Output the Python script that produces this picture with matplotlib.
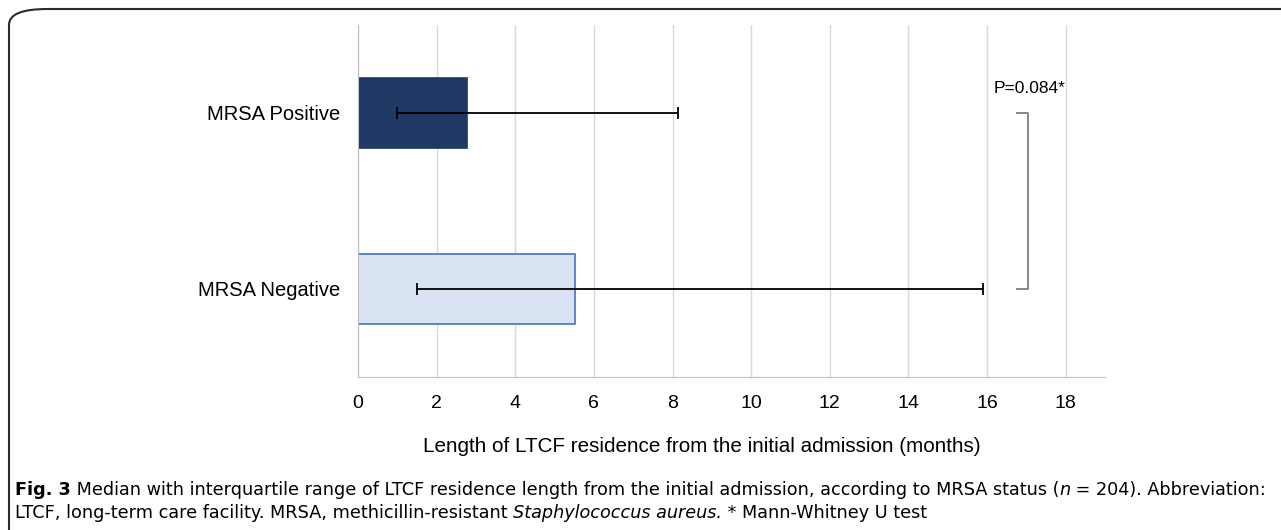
import matplotlib
matplotlib.use("Agg")
import matplotlib.pyplot as plt
from matplotlib.patches import FancyBboxPatch

# data (months)
groups = ["MRSA Negative", "MRSA Positive"]
medians = [5.52, 2.78]
q1 = [1.5, 1.0]
q3 = [15.9, 8.15]
p_label = "P=0.084*"
x_ticks = [0, 2, 4, 6, 8, 10, 12, 14, 16, 18]

plt.rcParams["font.family"] = ["Liberation Sans", "DejaVu Sans"]

fig = plt.figure(figsize=(12.81, 5.30), dpi=100)

# rounded frame around the whole figure (only top/left visible)
frame = FancyBboxPatch((9 / 1281, -0.2), 1.2, 1.2 - 9 / 530,
                       boxstyle="round,pad=0,rounding_size=0.03",
                       transform=fig.transFigure, fill=False,
                       edgecolor="#2b2b2b", linewidth=1.5,
                       mutation_aspect=530 / 1281 * 2.4)
fig.patches.append(frame)

ax = fig.add_axes([358 / 1281, 1 - 377 / 530, 747 / 1281, 352 / 530])

ypos = list(range(len(groups)))
face = ["#dae3f3", "#1f3864"]
edge = ["#4472c4", "#1f3864"]
ax.barh(ypos, medians, height=0.40, color=face, edgecolor=edge, linewidth=1.2, zorder=2)

xerr = [[m - a for m, a in zip(medians, q1)], [b - m for m, b in zip(medians, q3)]]
ax.errorbar(medians, ypos, xerr=xerr, fmt="none", ecolor="black",
            elinewidth=1.3, capsize=4, capthick=1.3, zorder=3)

# significance bracket
bx0, bx1 = 16.75, 17.05
ax.plot([bx0, bx1, bx1, bx0], [ypos[1], ypos[1], ypos[0], ypos[0]],
        color="#7f7f7f", linewidth=1.3, zorder=3)
ax.text(17.07, ypos[1] + 0.14, p_label, ha="center", va="center", fontsize=12.5)

ax.set_xlim(0, 19)
ax.set_ylim(-0.5, 1.5)
ax.set_xticks(x_ticks)
ax.set_xticklabels([str(t) for t in x_ticks], fontsize=14)
ax.set_yticks(ypos)
ax.set_yticklabels(groups, fontsize=14.5)
ax.tick_params(axis="x", length=0, pad=13)
ax.tick_params(axis="y", length=0, pad=13)
ax.grid(axis="x", color="#d9d9d9", linewidth=1.0, zorder=0)
ax.set_axisbelow(True)
for s in ["top", "right"]:
    ax.spines[s].set_visible(False)
ax.spines["left"].set_color("#bfbfbf")
ax.spines["bottom"].set_color("#bfbfbf")

fig.text(702 / 1281, 1 - 447 / 530,
         "Length of LTCF residence from the initial admission (months)",
         ha="center", va="center", fontsize=14.9)

# caption, drawn piece by piece so bold/italic runs line up
cap_size = 12.7


def caption_line(pieces, x, y):
    renderer = fig.canvas.get_renderer()
    cur = x * 1281
    for txt, style in pieces:
        kw = dict(fontsize=cap_size, va="baseline", ha="left",
                  family=["DejaVu Sans"])
        if style == "b":
            kw["fontweight"] = "bold"
        if style == "i":
            kw["fontstyle"] = "italic"
        t = fig.text(cur / 1281, y, txt, **kw)
        bb = t.get_window_extent(renderer=renderer)
        cur = bb.x1


caption_line([("Fig. 3", "b"),
              (" Median with interquartile range of LTCF residence length from the initial admission, according to MRSA status (", ""),
              ("n", "i"), (" = 204). Abbreviation:", "")],
             15 / 1281, 1 - 495 / 530)
caption_line([("LTCF, long-term care facility. MRSA, methicillin-resistant ", ""),
              ("Staphylococcus aureus.", "i"), (" * Mann-Whitney U test", "")],
             15 / 1281, 1 - 518 / 530)

fig.savefig("out.png", dpi=100)
